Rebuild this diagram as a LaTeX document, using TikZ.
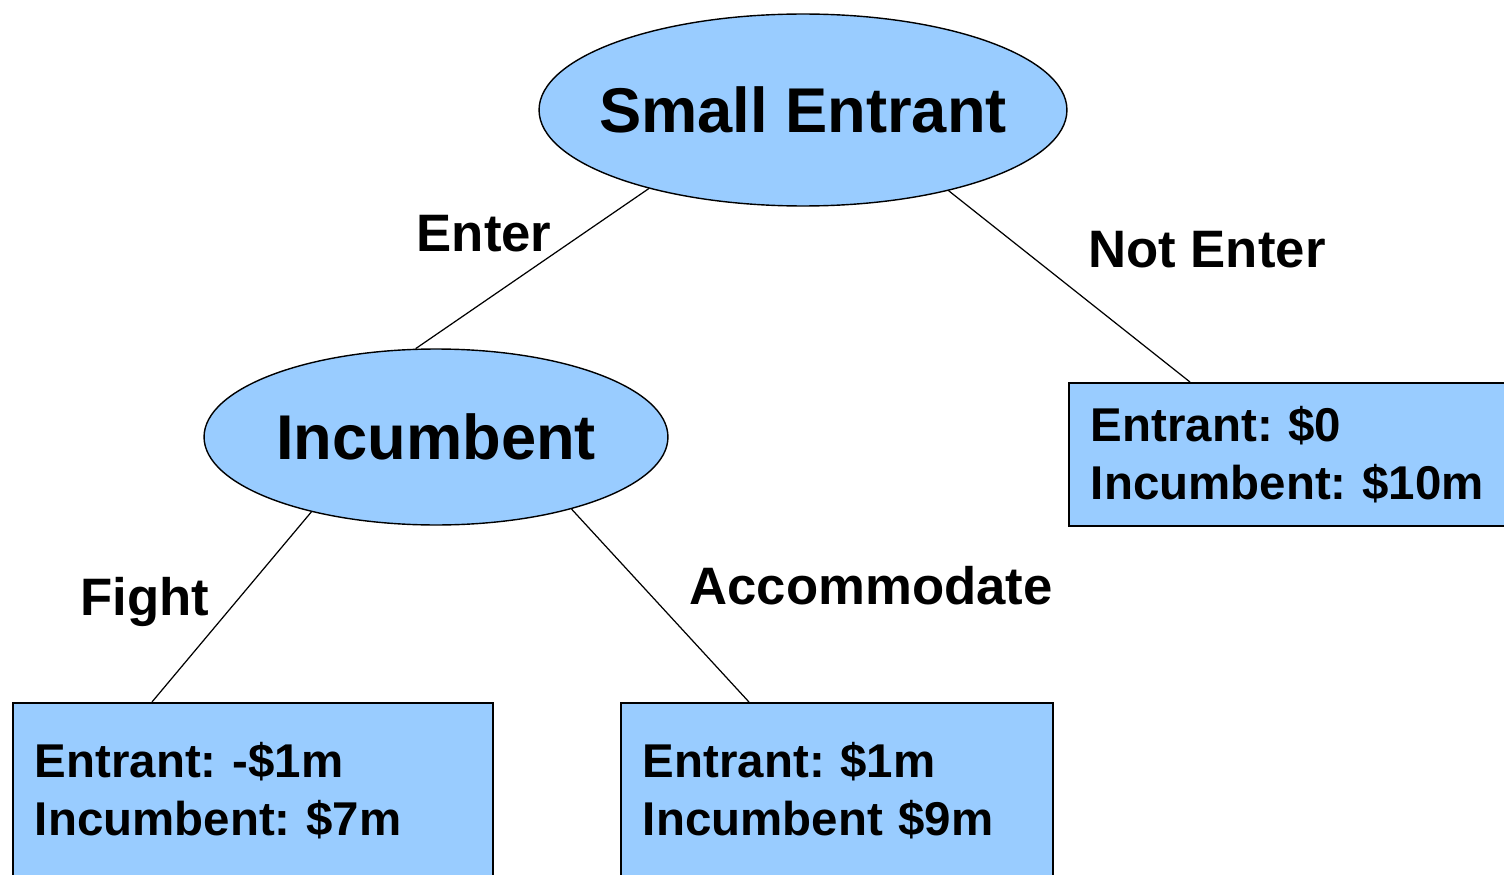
\documentclass[tikz,border=0pt]{standalone}
\usepackage{fontspec}
\setmainfont{Liberation Sans}
\frenchspacing
\usetikzlibrary{shapes.geometric, positioning, calc}
\definecolor{payblue}{RGB}{153,204,255}
\tikzstyle{player} = [draw, ellipse, fill=payblue, line width=0.8pt, inner sep=0pt, font=\fontsize{36}{43}\selectfont\bfseries]
\tikzstyle{payoff} = [draw, rectangle, fill=payblue, line width=1.1pt, anchor=north west, align=left, inner xsep=0.44cm, font=\fontsize{27}{33}\selectfont\bfseries]
\tikzstyle{move} = [font=\fontsize{30}{36}\selectfont\bfseries]
\tikzstyle{branch} = [line width=0.7pt]

\begin{document}
\begin{tikzpicture}[x=0.02cm, y=-0.02cm]
        \clip (0,0) rectangle (1504,875);
        \useasboundingbox (0,0) rectangle (1504,875);
        \node (se) [player, inner xsep=-0.36cm, minimum width=10.56cm, minimum height=3.84cm] at (803,110) {Small Entrant};
        \node (inc) [player, minimum width=9.28cm, minimum height=3.52cm] at (436,437) {Incumbent};
        \node (r1) [payoff, text width=8.32cm, minimum height=2.86cm] at (1068,382) {Entrant: \$0\\Incumbent: \$10m};
        \node (r2) [payoff, text width=8.72cm, minimum height=3.52cm] at (12,702) {Entrant: -\$1m\\Incumbent: \$7m};
        \node (r3) [payoff, text width=7.76cm, minimum height=3.52cm] at (620,702) {Entrant: \$1m\\Incumbent \$9m};

        \draw [branch] (se.207) -- (inc.103);
        \draw [branch] (se.331) -- ([xshift=2.44cm]r1.north west);
        \draw [branch] (inc.211) -- ([xshift=2.8cm]r2.north west);
        \draw [branch] (inc.332) -- ([xshift=2.58cm]r3.north west);

        \node (l1) [move] at (484,234) {Enter};
        \node (l2) [move] at (1207,250) {Not Enter};
        \node (l3) [move] at (145,602) {Fight};
        \node (l4) [move] at (871,586) {Accommodate};
      \end{tikzpicture}
\end{document}
